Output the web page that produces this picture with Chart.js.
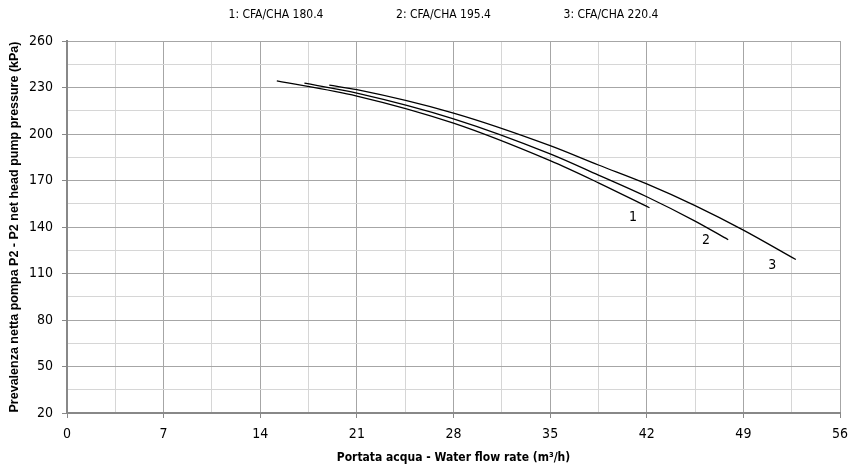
<!DOCTYPE html>
<html>
<head>
<meta charset="utf-8">
<script src="https://cdn.jsdelivr.net/npm/chart.js@4.4.1/dist/chart.umd.min.js"></script>
<style>
  html, body { margin: 0; padding: 0; background: #fff; }
  #wrap { width: 850px; height: 470px; }
</style>
</head>
<body>
<div id="wrap"><canvas id="curve"></canvas></div>
<script>
// pump curves (flow m3/h, head kPa)
const seriesNames = ['1: CFA/CHA 180.4', '2: CFA/CHA 195.4', '3: CFA/CHA 220.4'];
const flow1 = [15.2, 21, 28, 35, 38.5, 42.2];
const head1 = [234.3, 224.5, 207, 182.8, 168.5, 152.4];
const flow2 = [17.2, 21, 28, 35, 38.5, 42, 45.5, 47.9];
const head2 = [232.8, 226.4, 209.8, 187.2, 173.5, 159.5, 143.8, 131.8];
const flow3 = [19, 21, 28, 35, 38.5, 42, 45.5, 49, 52.8];
const head3 = [231.5, 228.6, 213.5, 192.5, 180, 167.8, 153.8, 138, 119];

// little number tags next to the curve ends
const tagText = ['1', '2', '3'];
const tagFlow = [41.0, 46.3, 51.1];
const tagHead = [146, 131.3, 115.5];

const narrow = "'Liberation Sans Narrow', 'DejaVu Sans Condensed', sans-serif";

function pts(xs, ys) {
    return xs.map((x, i) => ({ x: x, y: ys[i] }));
}

// curve tags + the text-only legend row at the top
const tagPlugin = {
    id: 'tags',
    afterDatasetsDraw(chart) {
        const c = chart.ctx;
        const xs = chart.scales.x, ys = chart.scales.y;
        c.save();
        c.font = "14px " + narrow;
        c.fillStyle = '#000';
        c.textAlign = 'center';
        c.textBaseline = 'middle';
        tagText.forEach((t, i) => {
            c.fillText(t, xs.getPixelForValue(tagFlow[i]), ys.getPixelForValue(tagHead[i]));
        });
        c.font = "12px " + narrow;
        const mid = (chart.chartArea.left + chart.chartArea.right) / 2 - 10;
        seriesNames.forEach((t, i) => {
            c.fillText(t, mid + (i - 1) * 167.5, 15);
        });
        c.restore();
    }
};

const lineStyle = { borderColor: '#000', borderWidth: 1.3, pointRadius: 0, fill: false, showLine: true, cubicInterpolationMode: 'monotone' };

const ctx = document.getElementById('curve').getContext('2d');
const pumpChart = new Chart(ctx, {
    type: 'scatter',
    data: {
        datasets: [
            Object.assign({ label: seriesNames[0], data: pts(flow1, head1) }, lineStyle),
            Object.assign({ label: seriesNames[1], data: pts(flow2, head2) }, lineStyle),
            Object.assign({ label: seriesNames[2], data: pts(flow3, head3) }, lineStyle)
        ]
    },
    options: {
        responsive: true,
        maintainAspectRatio: false,
        animation: false,
        layout: { padding: { left: 0, right: 10, top: 41, bottom: 0 } },
        plugins: {
            tooltip: { enabled: false },
            legend: { display: false }
        },
        scales: {
            x: {
                type: 'linear',
                min: 0,
                max: 56,
                afterFit(s) { s.height = 57; s.paddingLeft = 0; s.paddingRight = 0; },
                ticks: {
                    stepSize: 3.5,
                    autoSkip: false,
                    maxRotation: 0,
                    color: '#000',
                    padding: 8,
                    font: { family: narrow, size: 14 },
                    callback: v => (v % 7 === 0 ? v : '')
                },
                grid: {
                    color: c => (c.tick && c.tick.value % 7 === 0 ? '#a6a6a6' : '#d6d6d6'),
                    tickColor: c => (c.tick && c.tick.value % 7 === 0 ? '#888' : 'rgba(0,0,0,0)'),
                    tickLength: 5
                },
                border: { color: '#888', width: 2 },
                title: {
                    display: true,
                    text: 'Portata acqua - Water flow rate (m\u00b3/h)',
                    color: '#000',
                    font: { family: narrow, size: 12, weight: 'bold' },
                    padding: { top: 4, bottom: 5 }
                }
            },
            y: {
                min: 20,
                max: 260,
                afterFit(s) { s.width = 67; s.paddingTop = 0; s.paddingBottom = 0; },
                ticks: {
                    stepSize: 15,
                    autoSkip: false,
                    color: '#000',
                    padding: 9,
                    font: { family: narrow, size: 14 },
                    callback: v => ((v - 20) % 30 === 0 ? v : '')
                },
                grid: {
                    color: c => (c.tick && (c.tick.value - 20) % 30 === 0 ? '#a6a6a6' : '#d6d6d6'),
                    tickColor: c => (c.tick && (c.tick.value - 20) % 30 === 0 ? '#888' : 'rgba(0,0,0,0)'),
                    tickLength: 5
                },
                border: { color: '#888', width: 2 },
                title: {
                    display: true,
                    text: 'Prevalenza netta pompa P2 - P2 net head pump pressure (kPa)',
                    color: '#000',
                    font: { family: "'Liberation Sans', Arial, sans-serif", size: 12.5, weight: 'bold' },
                    padding: { top: 7, bottom: 2 }
                }
            }
        }
    },
    plugins: [tagPlugin]
});
</script>
</body>
</html>
